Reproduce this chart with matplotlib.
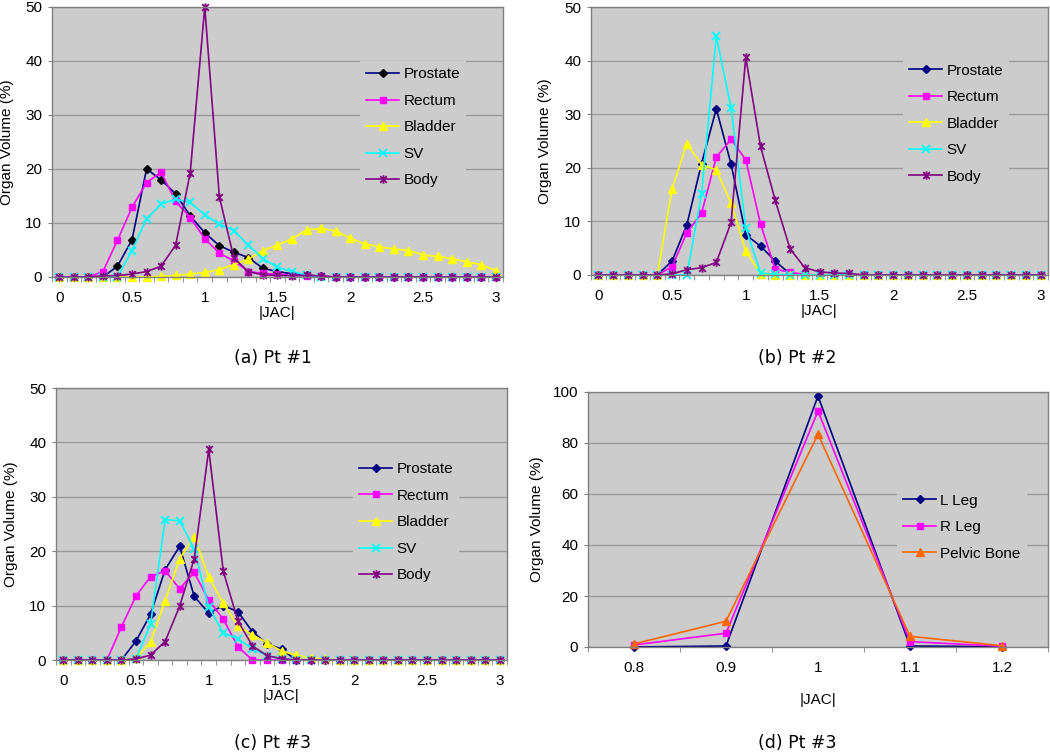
import matplotlib
matplotlib.use("Agg")
import matplotlib.pyplot as plt
from matplotlib.path import Path

plt.rcParams['font.family'] = ['Liberation Sans', 'DejaVu Sans']
plt.rcParams['font.size'] = 11

# ---------------- data ----------------
jac = [0.0, 0.1, 0.2, 0.3, 0.4, 0.5, 0.6, 0.7, 0.8, 0.9, 1.0, 1.1, 1.2, 1.3, 1.4, 1.5,
       1.6, 1.7, 1.8, 1.9, 2.0, 2.1, 2.2, 2.3, 2.4, 2.5, 2.6, 2.7, 2.8, 2.9, 3.0]
jac_labels = ['0', '0.5', '1', '1.5', '2', '2.5', '3']
jac_label_pos = [0.0, 0.5, 1.0, 1.5, 2.0, 2.5, 3.0]

pt1_prostate = [0, 0, 0, 0, 2.0, 6.9, 20.0, 18.0, 15.4, 11.3, 8.2, 5.8, 4.6, 3.6, 1.6, 1.0,
                0.6, 0.4, 0.1, 0, 0, 0, 0, 0, 0, 0, 0, 0, 0, 0, 0]
pt1_rectum = [0, 0, 0, 1.0, 6.8, 12.9, 17.5, 19.4, 14.0, 11.0, 7.1, 4.4, 3.0, 1.0, 0.7, 0.5,
              0.4, 0.2, 0.1, 0, 0, 0, 0, 0, 0, 0, 0, 0, 0, 0, 0]
pt1_bladder = [0, 0, 0, 0, 0, 0, 0, 0.1, 0.3, 0.55, 0.85, 1.35, 2.3, 3.3, 4.9, 5.9,
               7.1, 8.7, 9.0, 8.5, 7.2, 6.1, 5.6, 5.2, 4.9, 4.1, 3.8, 3.4, 2.8, 2.3, 1.2]
pt1_sv = [0, 0, 0, 0, 0, 4.9, 10.8, 13.5, 14.4, 13.8, 11.5, 9.8, 8.6, 5.9, 3.4, 1.8,
          1.0, 0.35, 0, 0, 0, 0, 0, 0, 0, 0, 0, 0, 0, 0, 0]
pt1_body = [0, 0, 0, 0.2, 0.25, 0.55, 1.0, 2.0, 5.9, 19.3, 50.0, 14.9, 3.5, 1.0, 0.4, 0.3,
            0.25, 0.3, 0.2, 0, 0, 0, 0, 0, 0, 0, 0, 0, 0, 0, 0]

pt2_prostate = [0, 0, 0, 0, 0, 2.6, 9.35, 20.8, 31.0, 20.7, 7.5, 5.4, 2.6, 0.2, 0, 0,
                0, 0, 0, 0, 0, 0, 0, 0, 0, 0, 0, 0, 0, 0, 0]
pt2_rectum = [0, 0, 0, 0, 0, 1.55, 7.9, 11.5, 22.0, 25.3, 21.5, 9.5, 1.1, 0.5, 0.1, 0,
              0, 0, 0, 0, 0, 0, 0, 0, 0, 0, 0, 0, 0, 0, 0]
pt2_bladder = [0, 0, 0, 0, 0, 16.1, 24.5, 20.6, 19.6, 13.4, 4.5, 0.2, 0, 0, 0, 0,
               0, 0, 0, 0, 0, 0, 0, 0, 0, 0, 0, 0, 0, 0, 0]
pt2_sv = [0, 0, 0, 0, 0, 0, 0, 15.1, 44.5, 31.2, 8.8, 0.4, 0.1, 0, 0, 0,
          0, 0, 0, 0, 0, 0, 0, 0, 0, 0, 0, 0, 0, 0, 0]
pt2_body = [0, 0, 0, 0, 0, 0.2, 1.0, 1.35, 2.35, 9.8, 40.6, 24.0, 13.9, 4.9, 1.35, 0.6,
            0.35, 0.3, 0, 0, 0, 0, 0, 0, 0, 0, 0, 0, 0, 0, 0]

pt3_prostate = [0, 0, 0, 0, 0, 3.5, 8.4, 16.6, 20.9, 11.7, 8.6, 10.0, 8.9, 5.2, 3.0, 2.0,
                0, 0, 0, 0, 0, 0, 0, 0, 0, 0, 0, 0, 0, 0, 0]
pt3_rectum = [0, 0, 0, 0, 6.1, 11.8, 15.3, 16.4, 13.1, 16.1, 11.0, 7.5, 2.45, 0, 0, 0,
              0, 0, 0, 0, 0, 0, 0, 0, 0, 0, 0, 0, 0, 0, 0]
pt3_bladder = [0, 0, 0, 0, 0, 0.3, 3.3, 10.9, 18.6, 22.7, 15.2, 10.4, 6.3, 4.6, 3.2, 1.65,
               0.9, 0.4, 0.1, 0, 0, 0, 0, 0, 0, 0, 0, 0, 0, 0, 0]
pt3_sv = [0, 0, 0, 0, 0, 0.2, 6.6, 25.8, 25.6, 20.4, 9.7, 5.0, 3.9, 2.1, 0.8, 0.25,
          0, 0, 0, 0, 0, 0, 0, 0, 0, 0, 0, 0, 0, 0, 0]
pt3_body = [0, 0, 0, 0, 0, 0.2, 0.9, 3.4, 9.9, 18.6, 38.7, 16.3, 7.2, 2.6, 0.8, 0.25,
            0, 0, 0, 0, 0, 0, 0, 0, 0, 0, 0, 0, 0, 0, 0]

bone_jac = [0.8, 0.9, 1.0, 1.1, 1.2]
bone_labels = ['0.8', '0.9', '1', '1.1', '1.2']
l_leg = [0.0, 0.4, 98.4, 0.4, 0.1]
r_leg = [0.8, 5.4, 92.5, 2.1, 0.3]
pelvic_bone = [1.2, 10.1, 83.4, 4.2, 0.5]

organ_names = ['Prostate', 'Rectum', 'Bladder', 'SV', 'Body']
bone_names = ['L Leg', 'R Leg', 'Pelvic Bone']
subtitles = ['(a) Pt #1', '(b) Pt #2', '(c) Pt #3', '(d) Pt #3']

# ---------------- style ----------------
BG = '#CCCCCC'
GRID = '#9A9A9A'
SPINE = '#808080'

star = Path([(-1, -1), (1, 1), (-1, 1), (1, -1), (0, -1.25), (0, 1.25)],
            [Path.MOVETO, Path.LINETO, Path.MOVETO, Path.LINETO, Path.MOVETO, Path.LINETO])

organ_styles = [
    dict(color='#000080', marker='D', ms=4, mfc='#000080', mec='#000080'),
    dict(color='#FF00FF', marker='s', ms=4.5, mfc='#FF00FF', mec='#FF00FF'),
    dict(color='#FFFF00', marker='^', ms=6, mfc='#FFFF00', mec='#FFFF00'),
    dict(color='#00FFFF', marker='x', ms=5.5, mew=1.3),
    dict(color='#800080', marker=star, ms=6, mew=1.3),
]
bone_styles = [
    dict(color='#000080', marker='D', ms=4, mfc='#000080', mec='#000080'),
    dict(color='#FF00FF', marker='s', ms=4.5, mfc='#FF00FF', mec='#FF00FF'),
    dict(color='#FF6600', marker='^', ms=6, mfc='#FF6600', mec='#FF6600'),
]

W, H = 1050, 752
fig = plt.figure(figsize=(W / 100, H / 100), dpi=100)


def px_axes(left, top, right, bottom):
    return fig.add_axes([left / W, 1 - bottom / H, (right - left) / W, (bottom - top) / H])


def style_axes(ax, ylim, yticks, xlim, xticks, xlabels, minor):
    ax.set_facecolor(BG)
    ax.set_xlim(*xlim)
    ax.set_ylim(*ylim)
    ax.set_yticks(yticks)
    ax.set_xticks(xticks)
    ax.set_xticklabels(xlabels)
    ax.set_xticks(minor, minor=True)
    ax.yaxis.grid(True, color=GRID, lw=1)
    ax.set_axisbelow(True)
    for s in ax.spines.values():
        s.set_color(SPINE)
        s.set_linewidth(1)
    ax.tick_params(axis='x', which='major', length=0, pad=10, labelsize=11)
    ax.tick_params(axis='x', which='minor', length=3.5, color=SPINE, direction='out')
    ax.tick_params(axis='y', which='major', length=3, color=SPINE, pad=4, labelsize=11)
    ax.set_xlabel('|JAC|', fontsize=11, labelpad=1)
    ax.set_ylabel('Organ Volume (%)', fontsize=11)


minor_jac = [-0.05 + 0.1 * i for i in range(32)]
minor_bone = [0.75, 0.85, 0.95, 1.05, 1.15, 1.25]

LEG_KW = dict(loc='center left', frameon=True, facecolor=BG, edgecolor='none', framealpha=1,
              fancybox=False, fontsize=11, handlelength=2.15, handletextpad=0.28,
              labelspacing=0.82, borderpad=0.4, borderaxespad=0)

panels = [
    (px_axes(52, 7, 503, 277), [pt1_prostate, pt1_rectum, pt1_bladder, pt1_sv, pt1_body], (0.683, 0.554), -0.085),
    (px_axes(591, 7, 1048, 275), [pt2_prostate, pt2_rectum, pt2_bladder, pt2_sv, pt2_body], (0.683, 0.565), -0.085),
    (px_axes(56, 388, 507, 660), [pt3_prostate, pt3_rectum, pt3_bladder, pt3_sv, pt3_body], (0.659, 0.506), -0.085),
]

for i, (ax, series, leg_pos, ylx) in enumerate(panels):
    style_axes(ax, (0, 50), [0, 10, 20, 30, 40, 50], (-0.05, 3.05), jac_label_pos, jac_labels, minor_jac)
    for name, vals, st in zip(organ_names, series, organ_styles):
        st = dict(st)
        if i == 0 and name == 'Prostate':
            st['mfc'] = 'black'
            st['mec'] = 'black'
        ax.plot(jac, vals, lw=1.2, label=name, clip_on=False, **st)
    ax.yaxis.set_label_coords(ylx, 0.5)
    ax.legend(bbox_to_anchor=leg_pos, **LEG_KW)

axd = px_axes(588, 392, 1048, 647)
style_axes(axd, (0, 100), [0, 20, 40, 60, 80, 100], (0.75, 1.25), bone_jac, bone_labels, minor_bone)
for name, vals, st in zip(bone_names, [l_leg, r_leg, pelvic_bone], bone_styles):
    axd.plot(bone_jac, vals, lw=1.2, label=name, clip_on=False, **st)
axd.yaxis.set_label_coords(-0.095, 0.5)
axd.xaxis.labelpad = 13
axd.legend(bbox_to_anchor=(0.672, 0.47), **LEG_KW)

# subtitles
sub_pos = [(273, 358), (797, 358), (273, 743), (797, 743)]
for txt, (x, y) in zip(subtitles, sub_pos):
    fig.text(x / W, 1 - y / H, txt, ha='center', va='center', fontsize=12.5, family='DejaVu Sans')

fig.savefig('out.png', dpi=100, facecolor='white')
